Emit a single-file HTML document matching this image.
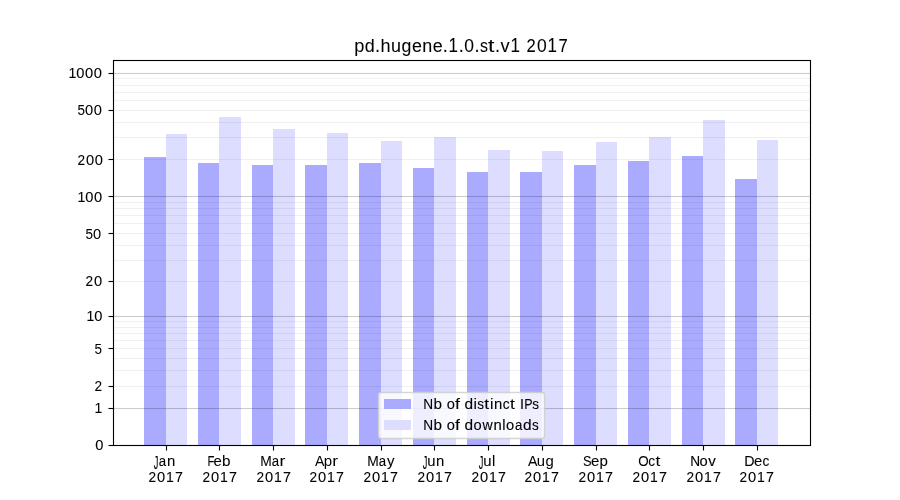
<!DOCTYPE html>
<html lang="en"><head><meta charset="utf-8"><title>pd.hugene.1.0.st.v1 2017</title>
<style>html,body{margin:0;padding:0;background:#fff;width:900px;height:500px;overflow:hidden}svg{display:block;position:absolute;left:0;top:0}text{font-family:"Liberation Sans",sans-serif;fill:#000;white-space:pre}</style></head><body>
<svg width="900" height="500" viewBox="0 0 900 500">
<rect x="0" y="0" width="900" height="500" fill="#fff"/>
<g shape-rendering="crispEdges">
<rect x="144" y="157" width="22" height="288" fill="#aaaaff"/>
<rect x="166" y="134" width="21" height="311" fill="#ddddff"/>
<rect x="198" y="163" width="21" height="282" fill="#aaaaff"/>
<rect x="219" y="117" width="22" height="328" fill="#ddddff"/>
<rect x="252" y="165" width="21" height="280" fill="#aaaaff"/>
<rect x="273" y="129" width="22" height="316" fill="#ddddff"/>
<rect x="305" y="165" width="22" height="280" fill="#aaaaff"/>
<rect x="327" y="133" width="21" height="312" fill="#ddddff"/>
<rect x="359" y="163" width="22" height="282" fill="#aaaaff"/>
<rect x="381" y="141" width="21" height="304" fill="#ddddff"/>
<rect x="413" y="168" width="21" height="277" fill="#aaaaff"/>
<rect x="434" y="137" width="22" height="308" fill="#ddddff"/>
<rect x="467" y="172" width="21" height="273" fill="#aaaaff"/>
<rect x="488" y="150" width="22" height="295" fill="#ddddff"/>
<rect x="520" y="172" width="22" height="273" fill="#aaaaff"/>
<rect x="542" y="151" width="21" height="294" fill="#ddddff"/>
<rect x="574" y="165" width="22" height="280" fill="#aaaaff"/>
<rect x="596" y="142" width="21" height="303" fill="#ddddff"/>
<rect x="628" y="161" width="21" height="284" fill="#aaaaff"/>
<rect x="649" y="137" width="22" height="308" fill="#ddddff"/>
<rect x="682" y="156" width="21" height="289" fill="#aaaaff"/>
<rect x="703" y="120" width="22" height="325" fill="#ddddff"/>
<rect x="735" y="179" width="22" height="266" fill="#aaaaff"/>
<rect x="757" y="140" width="21" height="305" fill="#ddddff"/>
</g>
<g fill="#000" fill-opacity="0.06">
<rect x="113" y="385.9445" width="697.5" height="1.111"/>
<rect x="113" y="369.9445" width="697.5" height="1.111"/>
<rect x="113" y="357.9445" width="697.5" height="1.111"/>
<rect x="113" y="347.9445" width="697.5" height="1.111"/>
<rect x="113" y="339.9445" width="697.5" height="1.111"/>
<rect x="113" y="332.9445" width="697.5" height="1.111"/>
<rect x="113" y="326.9445" width="697.5" height="1.111"/>
<rect x="113" y="320.9445" width="697.5" height="1.111"/>
<rect x="113" y="280.9445" width="697.5" height="1.111"/>
<rect x="113" y="259.9445" width="697.5" height="1.111"/>
<rect x="113" y="244.9445" width="697.5" height="1.111"/>
<rect x="113" y="232.9445" width="697.5" height="1.111"/>
<rect x="113" y="222.9445" width="697.5" height="1.111"/>
<rect x="113" y="214.9445" width="697.5" height="1.111"/>
<rect x="113" y="207.9445" width="697.5" height="1.111"/>
<rect x="113" y="201.9445" width="697.5" height="1.111"/>
<rect x="113" y="158.9445" width="697.5" height="1.111"/>
<rect x="113" y="136.9445" width="697.5" height="1.111"/>
<rect x="113" y="121.9445" width="697.5" height="1.111"/>
<rect x="113" y="109.9445" width="697.5" height="1.111"/>
<rect x="113" y="99.9445" width="697.5" height="1.111"/>
<rect x="113" y="91.9445" width="697.5" height="1.111"/>
<rect x="113" y="84.9445" width="697.5" height="1.111"/>
<rect x="113" y="77.9445" width="697.5" height="1.111"/>
</g>
<g fill="#000" fill-opacity="0.2">
<rect x="113" y="407.9445" width="697.5" height="1.111"/>
<rect x="113" y="315.9445" width="697.5" height="1.111"/>
<rect x="113" y="195.9445" width="697.5" height="1.111"/>
<rect x="113" y="72.9445" width="697.5" height="1.111"/>
</g>
<rect x="378.500" y="392.500" width="166.000" height="46.000" rx="2.78" ry="2.78" fill="#fff" fill-opacity="0.8" stroke="#ccc" stroke-opacity="0.8" stroke-width="1.389"/>
<rect x="384" y="399" width="27" height="10" fill="#aaaaff" shape-rendering="crispEdges"/>
<rect x="384" y="420" width="27" height="10" fill="#ddddff" shape-rendering="crispEdges"/>
<g stroke="#000" stroke-width="1.111" fill="none">
<rect x="113.5" y="60.5" width="697" height="385"/>
</g>
<g fill="#000">
<rect x="108.5" y="444.9445" width="5" height="1.111"/>
<rect x="108.5" y="407.9445" width="5" height="1.111"/>
<rect x="108.5" y="385.9445" width="5" height="1.111"/>
<rect x="108.5" y="347.9445" width="5" height="1.111"/>
<rect x="108.5" y="315.9445" width="5" height="1.111"/>
<rect x="108.5" y="280.9445" width="5" height="1.111"/>
<rect x="108.5" y="232.9445" width="5" height="1.111"/>
<rect x="108.5" y="195.9445" width="5" height="1.111"/>
<rect x="108.5" y="158.9445" width="5" height="1.111"/>
<rect x="108.5" y="109.9445" width="5" height="1.111"/>
<rect x="108.5" y="72.9445" width="5" height="1.111"/>
<rect x="165.9445" y="445.5" width="1.111" height="5"/>
<rect x="218.9445" y="445.5" width="1.111" height="5"/>
<rect x="272.9445" y="445.5" width="1.111" height="5"/>
<rect x="326.9445" y="445.5" width="1.111" height="5"/>
<rect x="380.9445" y="445.5" width="1.111" height="5"/>
<rect x="433.9445" y="445.5" width="1.111" height="5"/>
<rect x="487.9445" y="445.5" width="1.111" height="5"/>
<rect x="541.9445" y="445.5" width="1.111" height="5"/>
<rect x="595.9445" y="445.5" width="1.111" height="5"/>
<rect x="648.9445" y="445.5" width="1.111" height="5"/>
<rect x="702.9445" y="445.5" width="1.111" height="5"/>
<rect x="756.9445" y="445.5" width="1.111" height="5"/>
</g>
<g opacity="0.999" stroke="#000" stroke-width="0.09" stroke-linejoin="round">
<g font-size="14.5" stroke-width="0.113" aria-label="Jan">
<text transform="matrix(0.6356 0 0 1.2636 153.661 468.941)">J</text>
<text transform="matrix(0.9100 0 0 0.9723 158.659 465.636)">a</text>
<text transform="matrix(1.0255 0 0 1.0140 166.885 466.073)">n</text>
</g>
<g font-size="14.5" stroke-width="0.103" aria-label="2017">
<text transform="matrix(0.9411 0 0 1.0047 148.540 482.240)">2</text>
<text transform="matrix(1.0121 0 0 0.9910 157.073 482.078)">0</text>
<text transform="matrix(0.9697 0 0 1.0024 165.991 482.000)">1</text>
<text transform="matrix(0.9895 0 0 1.0023 174.962 482.148)">7</text>
</g>
<g font-size="14.5" stroke-width="0.091" aria-label="Feb">
<text transform="matrix(0.7797 0 0 1.0016 207.623 466.197)">F</text>
<text transform="matrix(1.0263 0 0 1.0214 213.519 465.999)">e</text>
<text transform="matrix(1.0521 0 0 1.0001 221.990 466.045)">b</text>
</g>
<g font-size="14.5" stroke-width="0.103" aria-label="2017">
<text transform="matrix(0.9411 0 0 1.0047 202.540 482.240)">2</text>
<text transform="matrix(1.0121 0 0 0.9910 211.073 482.078)">0</text>
<text transform="matrix(0.9697 0 0 1.0024 219.991 482.000)">1</text>
<text transform="matrix(0.9895 0 0 1.0023 228.962 482.148)">7</text>
</g>
<g font-size="14.5" stroke-width="0.076" aria-label="Mar">
<text transform="matrix(0.9536 0 0 1.0024 260.241 466.000)">M</text>
<text transform="matrix(0.9100 0 0 0.9723 271.659 465.636)">a</text>
<text transform="matrix(1.2130 0 0 1.0497 279.512 466.311)">r</text>
</g>
<g font-size="14.5" stroke-width="0.103" aria-label="2017">
<text transform="matrix(0.9411 0 0 1.0047 256.540 482.240)">2</text>
<text transform="matrix(1.0121 0 0 0.9910 265.073 482.078)">0</text>
<text transform="matrix(0.9697 0 0 1.0024 273.991 482.000)">1</text>
<text transform="matrix(0.9895 0 0 1.0023 282.962 482.148)">7</text>
</g>
<g font-size="14.5" stroke-width="0.000" aria-label="Apr">
<text transform="matrix(0.9755 0 0 1.0252 314.903 466.143)">A</text>
<text transform="matrix(1.0391 0 0 1.0270 323.825 466.010)">p</text>
<text transform="matrix(1.2130 0 0 1.0497 332.262 466.311)">r</text>
</g>
<g font-size="14.5" stroke-width="0.103" aria-label="2017">
<text transform="matrix(0.9411 0 0 1.0047 309.540 482.240)">2</text>
<text transform="matrix(1.0121 0 0 0.9910 318.073 482.078)">0</text>
<text transform="matrix(0.9697 0 0 1.0024 326.991 482.000)">1</text>
<text transform="matrix(0.9895 0 0 1.0023 335.962 482.148)">7</text>
</g>
<g font-size="14.5" stroke-width="0.094" aria-label="May">
<text transform="matrix(0.9536 0 0 1.0024 367.241 466.000)">M</text>
<text transform="matrix(0.9100 0 0 0.9723 378.659 465.636)">a</text>
<text transform="matrix(1.0304 0 0 1.0100 387.079 466.012)">y</text>
</g>
<g font-size="14.5" stroke-width="0.103" aria-label="2017">
<text transform="matrix(0.9411 0 0 1.0047 363.540 482.240)">2</text>
<text transform="matrix(1.0121 0 0 0.9910 372.073 482.078)">0</text>
<text transform="matrix(0.9697 0 0 1.0024 380.991 482.000)">1</text>
<text transform="matrix(0.9895 0 0 1.0023 389.962 482.148)">7</text>
</g>
<g font-size="14.5" stroke-width="0.093" aria-label="Jun">
<text transform="matrix(0.6356 0 0 1.2636 422.661 468.941)">J</text>
<text transform="matrix(1.0194 0 0 1.0220 427.303 466.008)">u</text>
<text transform="matrix(1.0255 0 0 1.0140 436.010 466.073)">n</text>
</g>
<g font-size="14.5" stroke-width="0.103" aria-label="2017">
<text transform="matrix(0.9411 0 0 1.0047 417.540 482.240)">2</text>
<text transform="matrix(1.0121 0 0 0.9910 426.073 482.078)">0</text>
<text transform="matrix(0.9697 0 0 1.0024 434.991 482.000)">1</text>
<text transform="matrix(0.9895 0 0 1.0023 443.962 482.148)">7</text>
</g>
<g font-size="14.5" stroke-width="0.093" aria-label="Jul">
<text transform="matrix(0.6356 0 0 1.2636 478.661 468.941)">J</text>
<text transform="matrix(1.0194 0 0 1.0220 483.303 466.008)">u</text>
<text transform="matrix(1.0136 0 0 1.0347 492.004 466.255)">l</text>
</g>
<g font-size="14.5" stroke-width="0.103" aria-label="2017">
<text transform="matrix(0.9411 0 0 1.0047 471.540 482.240)">2</text>
<text transform="matrix(1.0121 0 0 0.9910 480.073 482.078)">0</text>
<text transform="matrix(0.9697 0 0 1.0024 488.991 482.000)">1</text>
<text transform="matrix(0.9895 0 0 1.0023 497.962 482.148)">7</text>
</g>
<g font-size="14.5" stroke-width="0.032" aria-label="Aug">
<text transform="matrix(0.9755 0 0 1.0252 527.903 466.143)">A</text>
<text transform="matrix(1.0194 0 0 1.0220 536.803 466.008)">u</text>
<text transform="matrix(1.0261 0 0 1.0087 545.541 466.138)">g</text>
</g>
<g font-size="14.5" stroke-width="0.103" aria-label="2017">
<text transform="matrix(0.9411 0 0 1.0047 524.540 482.240)">2</text>
<text transform="matrix(1.0121 0 0 0.9910 533.073 482.078)">0</text>
<text transform="matrix(0.9697 0 0 1.0024 541.991 482.000)">1</text>
<text transform="matrix(0.9895 0 0 1.0023 550.962 482.148)">7</text>
</g>
<g font-size="14.5" stroke-width="0.085" aria-label="Sep">
<text transform="matrix(0.8842 0 0 0.9628 583.047 465.805)">S</text>
<text transform="matrix(1.0263 0 0 1.0214 591.019 465.999)">e</text>
<text transform="matrix(1.0391 0 0 1.0270 599.575 466.010)">p</text>
</g>
<g font-size="14.5" stroke-width="0.103" aria-label="2017">
<text transform="matrix(0.9411 0 0 1.0047 578.540 482.240)">2</text>
<text transform="matrix(1.0121 0 0 0.9910 587.073 482.078)">0</text>
<text transform="matrix(0.9697 0 0 1.0024 595.991 482.000)">1</text>
<text transform="matrix(0.9895 0 0 1.0023 604.962 482.148)">7</text>
</g>
<g font-size="14.5" stroke-width="0.048" aria-label="Oct">
<text transform="matrix(0.9243 0 0 0.9649 638.222 466.060)">O</text>
<text transform="matrix(0.9471 0 0 1.0176 648.194 466.008)">c</text>
<text transform="matrix(1.2048 0 0 1.0157 655.393 466.170)">t</text>
</g>
<g font-size="14.5" stroke-width="0.103" aria-label="2017">
<text transform="matrix(0.9411 0 0 1.0047 632.540 482.240)">2</text>
<text transform="matrix(1.0121 0 0 0.9910 641.073 482.078)">0</text>
<text transform="matrix(0.9697 0 0 1.0024 649.991 482.000)">1</text>
<text transform="matrix(0.9895 0 0 1.0023 658.962 482.148)">7</text>
</g>
<g font-size="14.5" stroke-width="0.146" aria-label="Nov">
<text transform="matrix(0.9414 0 0 1.0108 690.229 466.111)">N</text>
<text transform="matrix(1.0139 0 0 1.0423 699.461 466.053)">o</text>
<text transform="matrix(1.0390 0 0 1.0415 708.327 466.019)">v</text>
</g>
<g font-size="14.5" stroke-width="0.103" aria-label="2017">
<text transform="matrix(0.9411 0 0 1.0047 686.540 482.240)">2</text>
<text transform="matrix(1.0121 0 0 0.9910 695.073 482.078)">0</text>
<text transform="matrix(0.9697 0 0 1.0024 703.991 482.000)">1</text>
<text transform="matrix(0.9895 0 0 1.0023 712.962 482.148)">7</text>
</g>
<g font-size="14.5" stroke-width="0.082" aria-label="Dec">
<text transform="matrix(0.9858 0 0 1.0355 744.153 466.251)">D</text>
<text transform="matrix(1.0263 0 0 1.0214 754.019 465.999)">e</text>
<text transform="matrix(0.9471 0 0 1.0176 762.569 466.008)">c</text>
</g>
<g font-size="14.5" stroke-width="0.103" aria-label="2017">
<text transform="matrix(0.9411 0 0 1.0047 739.540 482.240)">2</text>
<text transform="matrix(1.0121 0 0 0.9910 748.073 482.078)">0</text>
<text transform="matrix(0.9697 0 0 1.0024 756.991 482.000)">1</text>
<text transform="matrix(0.9895 0 0 1.0023 765.962 482.148)">7</text>
</g>
<g font-size="14.5" stroke-width="0.115" aria-label="0">
<text transform="matrix(1.0121 0 0 0.9910 95.323 450.078)">0</text>
</g>
<g font-size="14.5" stroke-width="0.104" aria-label="1">
<text transform="matrix(0.9697 0 0 1.0024 94.491 413.000)">1</text>
</g>
<g font-size="14.5" stroke-width="0.077" aria-label="2">
<text transform="matrix(0.9411 0 0 1.0047 94.540 391.240)">2</text>
</g>
<g font-size="14.5" stroke-width="0.016" aria-label="5">
<text transform="matrix(0.9266 0 0 1.0052 94.578 354.077)">5</text>
</g>
<g font-size="14.5" stroke-width="0.111" aria-label="10">
<text transform="matrix(0.9697 0 0 1.0024 86.491 321.000)">1</text>
<text transform="matrix(1.0121 0 0 0.9910 94.198 321.078)">0</text>
</g>
<g font-size="14.5" stroke-width="0.099" aria-label="20">
<text transform="matrix(0.9411 0 0 1.0047 85.540 286.240)">2</text>
<text transform="matrix(1.0121 0 0 0.9910 94.073 286.078)">0</text>
</g>
<g font-size="14.5" stroke-width="0.058" aria-label="50">
<text transform="matrix(0.9266 0 0 1.0052 85.578 239.077)">5</text>
<text transform="matrix(1.0121 0 0 0.9910 93.073 239.078)">0</text>
</g>
<g font-size="14.5" stroke-width="0.113" aria-label="100">
<text transform="matrix(0.9697 0 0 1.0024 77.491 202.000)">1</text>
<text transform="matrix(1.0121 0 0 0.9910 85.198 202.078)">0</text>
<text transform="matrix(1.0121 0 0 0.9910 93.948 202.078)">0</text>
</g>
<g font-size="14.5" stroke-width="0.099" aria-label="200">
<text transform="matrix(0.9411 0 0 1.0047 77.540 165.240)">2</text>
<text transform="matrix(1.0121 0 0 0.9910 86.073 165.078)">0</text>
<text transform="matrix(1.0121 0 0 0.9910 94.823 165.078)">0</text>
</g>
<g font-size="14.5" stroke-width="0.079" aria-label="500">
<text transform="matrix(0.9266 0 0 1.0052 77.578 115.077)">5</text>
<text transform="matrix(1.0121 0 0 0.9910 85.073 115.078)">0</text>
<text transform="matrix(1.0121 0 0 0.9910 93.823 115.078)">0</text>
</g>
<g font-size="14.5" stroke-width="0.114" aria-label="1000">
<text transform="matrix(0.9697 0 0 1.0024 68.491 78.000)">1</text>
<text transform="matrix(1.0121 0 0 0.9910 76.198 78.078)">0</text>
<text transform="matrix(1.0121 0 0 0.9910 84.948 78.078)">0</text>
<text transform="matrix(1.0121 0 0 0.9910 93.698 78.078)">0</text>
</g>
<g font-size="17.4" stroke-width="0.068" aria-label="pd.hugene.1.0.st.v1 2017">
<text transform="matrix(1.0457 0 0 1.0659 354.280 52.239)">p</text>
<text transform="matrix(1.0323 0 0 1.0865 364.732 51.860)">d</text>
<text transform="matrix(1.0528 0 0 1.1665 375.046 52.196)">.</text>
<text transform="matrix(1.0384 0 0 1.0337 380.460 51.752)">h</text>
<text transform="matrix(1.0319 0 0 1.0735 390.979 51.829)">u</text>
<text transform="matrix(1.0214 0 0 1.0942 401.509 52.361)">g</text>
<text transform="matrix(1.0285 0 0 1.0609 411.902 52.017)">e</text>
<text transform="matrix(1.0325 0 0 1.0683 422.247 52.272)">n</text>
<text transform="matrix(1.0285 0 0 1.0609 432.652 52.017)">e</text>
<text transform="matrix(1.0528 0 0 1.1665 442.796 52.196)">.</text>
<text transform="matrix(0.9799 0 0 1.1287 448.465 52.211)">1</text>
<text transform="matrix(1.0528 0 0 1.1665 458.671 52.196)">.</text>
<text transform="matrix(1.0043 0 0 1.0797 464.336 51.986)">0</text>
<text transform="matrix(1.0528 0 0 1.1665 474.421 52.196)">.</text>
<text transform="matrix(0.9144 0 0 1.0518 480.120 51.821)">s</text>
<text transform="matrix(1.3244 0 0 1.0347 488.069 51.749)">t</text>
<text transform="matrix(1.0528 0 0 1.1665 494.921 52.196)">.</text>
<text transform="matrix(1.0466 0 0 1.0600 500.567 51.995)">v</text>
<text transform="matrix(0.9799 0 0 1.1287 510.465 52.211)">1</text>
<text transform="matrix(0.9526 0 0 1.0928 526.462 52.154)">2</text>
<text transform="matrix(1.0043 0 0 1.0797 536.961 51.986)">0</text>
<text transform="matrix(0.9799 0 0 1.1287 547.465 52.211)">1</text>
<text transform="matrix(0.9595 0 0 1.0640 558.470 52.040)">7</text>
</g>
<g font-size="14.5" stroke-width="0.107" aria-label="Nb of distinct IPs">
<text transform="matrix(0.9414 0 0 1.0108 423.229 409.111)">N</text>
<text transform="matrix(1.0521 0 0 1.0001 433.615 409.045)">b</text>
<text transform="matrix(1.0139 0 0 1.0423 446.711 409.053)">o</text>
<text transform="matrix(1.2166 0 0 1.0728 455.083 409.448)">f</text>
<text transform="matrix(1.0666 0 0 1.0165 464.531 408.887)">d</text>
<text transform="matrix(1.0610 0 0 1.0568 473.598 409.053)">i</text>
<text transform="matrix(0.9255 0 0 1.0057 477.336 409.058)">s</text>
<text transform="matrix(1.2048 0 0 1.0157 484.268 409.170)">t</text>
<text transform="matrix(1.0610 0 0 1.0568 490.098 409.053)">i</text>
<text transform="matrix(1.0255 0 0 1.0140 494.010 409.073)">n</text>
<text transform="matrix(0.9471 0 0 1.0176 502.819 409.008)">c</text>
<text transform="matrix(1.2048 0 0 1.0157 510.018 409.170)">t</text>
<text transform="matrix(0.9997 0 0 1.0024 520.018 409.000)">I</text>
<text transform="matrix(0.8617 0 0 1.0208 524.227 409.160)">P</text>
<text transform="matrix(0.9255 0 0 1.0057 532.211 409.058)">s</text>
</g>
<g font-size="14.5" stroke-width="0.130" aria-label="Nb of downloads">
<text transform="matrix(0.9414 0 0 1.0108 423.229 430.111)">N</text>
<text transform="matrix(1.0521 0 0 1.0001 433.615 430.045)">b</text>
<text transform="matrix(1.0139 0 0 1.0423 446.711 430.053)">o</text>
<text transform="matrix(1.2166 0 0 1.0728 455.083 430.448)">f</text>
<text transform="matrix(1.0666 0 0 1.0165 464.531 429.887)">d</text>
<text transform="matrix(1.0139 0 0 1.0423 473.461 430.053)">o</text>
<text transform="matrix(0.9705 0 0 1.0347 482.514 429.985)">w</text>
<text transform="matrix(1.0255 0 0 1.0140 493.510 430.073)">n</text>
<text transform="matrix(1.0136 0 0 1.0347 502.254 430.255)">l</text>
<text transform="matrix(1.0139 0 0 1.0423 505.961 430.053)">o</text>
<text transform="matrix(0.9100 0 0 0.9723 515.034 429.636)">a</text>
<text transform="matrix(1.0666 0 0 1.0165 523.031 429.887)">d</text>
<text transform="matrix(0.9255 0 0 1.0057 531.961 430.058)">s</text>
</g>
</g>
</svg></body></html>
